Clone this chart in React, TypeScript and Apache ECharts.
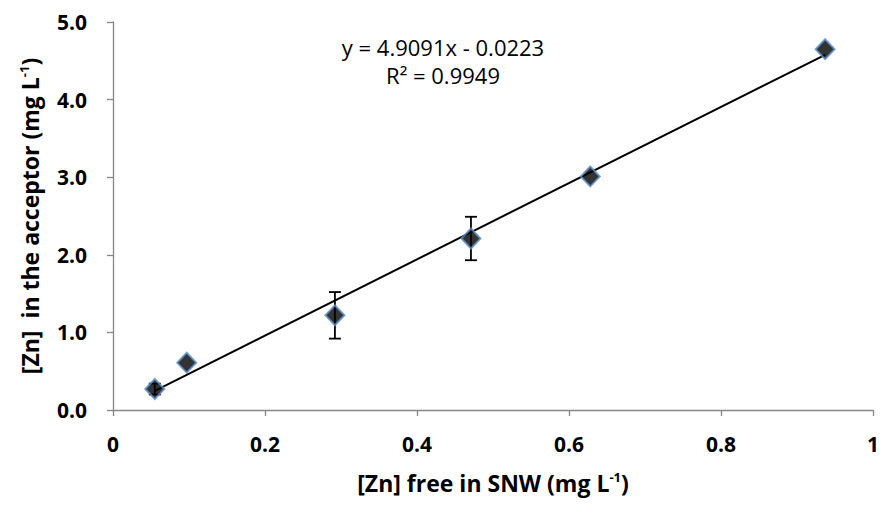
import React, { useEffect, useRef } from "react";
import * as echarts from "echarts";

const xValues = [0.055, 0.097, 0.292, 0.471, 0.628, 0.937];
const yValues = [0.27, 0.61, 1.22, 2.21, 3.01, 4.65];
const yErrors = [0.07, 0, 0.3, 0.28, 0, 0];
const slope = 4.9091;
const intercept = -0.0223;
const xTickLabels = ["0", "0.2", "0.4", "0.6", "0.8", "1"];
const yTickLabels = ["0.0", "1.0", "2.0", "3.0", "4.0", "5.0"];
const equationText = "y = 4.9091x - 0.0223";
const r2Text = "R² = 0.9949";

const FONT = "'Open Sans', 'Liberation Sans', sans-serif";

export default function App() {
  const ref = useRef<HTMLDivElement>(null);
  useEffect(() => {
    const chart = echarts.init(ref.current!, null, { renderer: "svg" });
    const points = xValues.map((x, i) => [x, yValues[i]]);
    const errData = xValues
      .map((x, i) => [x, yValues[i] - yErrors[i], yValues[i] + yErrors[i], yErrors[i]])
      .filter((d) => d[3] > 0);
    const xMin = Math.min(...xValues);
    const xMax = Math.max(...xValues);
    const trend = [
      [xMin, slope * xMin + intercept],
      [xMax, slope * xMax + intercept],
    ];
    const nameRich = {
      t: { fontFamily: FONT, fontWeight: "bold", fontSize: 23, color: "#000" },
      s: { fontFamily: FONT, fontWeight: "bold", fontSize: 13, color: "#000", verticalAlign: "top", padding: [0, 0, 12, 0] },
    };
    chart.setOption({
      animation: false,
      backgroundColor: "#ffffff",
      grid: { left: 113, right: 13, top: 22, bottom: 96, containLabel: false },
      xAxis: {
        type: "value",
        min: 0,
        max: 1,
        interval: 0.2,
        splitLine: { show: false },
        axisLine: { lineStyle: { color: "#868686", width: 1.3 } },
        axisTick: { show: true, length: 6, lineStyle: { color: "#868686", width: 1.3 } },
        axisLabel: {
          color: "#000",
          fontFamily: FONT,
          fontWeight: "bold",
          fontSize: 21,
          margin: 23,
          formatter: (v: number) => xTickLabels[Math.round(v / 0.2)] ?? "",
        },
        name: "{t|[Zn] free in SNW (mg L}{s|-1}{t|)}",
        nameLocation: "middle",
        nameGap: 60,
        nameTextStyle: { rich: nameRich },
      },
      yAxis: {
        type: "value",
        min: 0,
        max: 5,
        interval: 1,
        splitLine: { show: false },
        axisLine: { show: true, lineStyle: { color: "#868686", width: 1.3 } },
        axisTick: { show: true, length: 6, lineStyle: { color: "#868686", width: 1.3 } },
        axisLabel: {
          color: "#000",
          fontFamily: FONT,
          fontWeight: "bold",
          fontSize: 21,
          margin: 26,
          formatter: (v: number) => yTickLabels[Math.round(v)] ?? "",
        },
        name: "{t|[Zn]\u00a0\u00a0in the acceptor (mg L}{s|-1}{t|)}",
        nameLocation: "middle",
        nameGap: 71,
        nameRotate: 90,
        nameTextStyle: { rich: nameRich },
      },
      series: [
        {
          type: "line",
          data: trend,
          symbol: "none",
          lineStyle: { color: "#000", width: 2 },
          z: 2,
        },
        {
          type: "custom",
          data: errData,
          z: 3,
          renderItem: (params: any, api: any) => {
            const x = api.value(0);
            const lo = api.coord([x, api.value(1)]);
            const hi = api.coord([x, api.value(2)]);
            const w = 6;
            const st = { stroke: "#000", lineWidth: 1.8 };
            return {
              type: "group",
              children: [
                { type: "line", shape: { x1: lo[0], y1: lo[1], x2: hi[0], y2: hi[1] }, style: st },
                { type: "line", shape: { x1: lo[0] - w, y1: lo[1], x2: lo[0] + w, y2: lo[1] }, style: st },
                { type: "line", shape: { x1: hi[0] - w, y1: hi[1], x2: hi[0] + w, y2: hi[1] }, style: st },
              ],
            };
          },
        },
        {
          type: "scatter",
          data: points,
          symbol: "diamond",
          symbolSize: [19, 20],
          itemStyle: { color: "#000", borderColor: "#5B8FC9", borderWidth: 2 },
          z: 4,
        },
      ],
      graphic: [
        {
          type: "text",
          x: 443,
          y: 47,
          style: { text: equationText, fontFamily: FONT, fontSize: 22, fill: "#000", align: "center", verticalAlign: "middle" },
        },
        {
          type: "text",
          x: 443,
          y: 75,
          style: { text: r2Text, fontFamily: FONT, fontSize: 22, fill: "#000", align: "center", verticalAlign: "middle" },
        },
      ],
    });
    return () => chart.dispose();
  }, []);
  return <div ref={ref} style={{ position: "absolute", left: 0, top: 0, width: 886, height: 506 }} />;
}
